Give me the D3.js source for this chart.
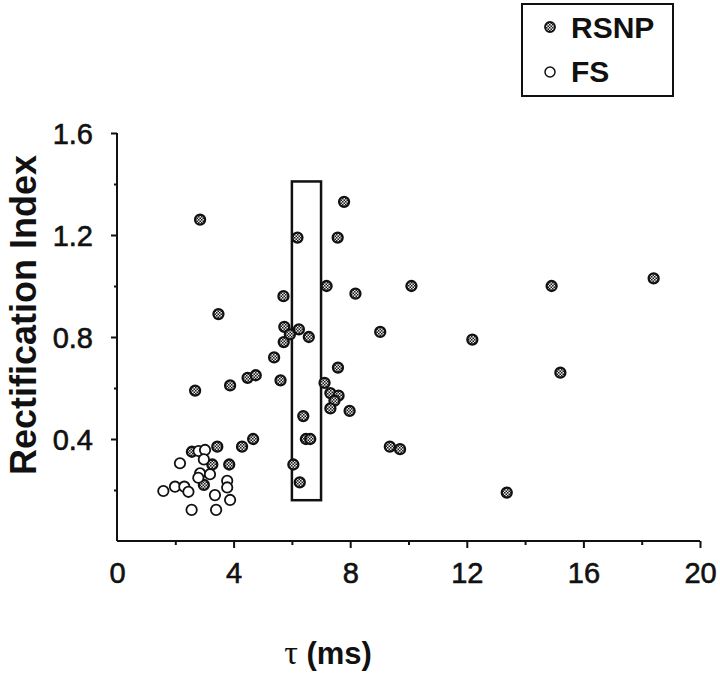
<!DOCTYPE html>
<html>
<head>
<meta charset="utf-8">
<script src="https://cdn.jsdelivr.net/npm/d3@7"></script>
<style>
  html, body { margin: 0; padding: 0; background: #fff; }
  svg { display: block; font-family: "Liberation Sans", Arial, Helvetica, sans-serif; }
</style>
</head>
<body>
<svg id="chart" width="720" height="674"></svg>
<script>
// ---- data ----
const rsnpTau = [2.85, 7.79, 6.19, 7.57, 7.19, 8.18, 10.1, 5.71, 3.48, 5.74, 6.24, 5.93, 6.58, 5.72, 9.03,
  5.39, 7.58, 4.48, 4.76, 5.61, 3.88, 2.68, 7.12, 7.32, 7.60, 7.46, 7.32, 7.98, 6.39, 4.67, 4.29, 3.44,
  6.48, 6.63, 3.27, 3.85, 6.05, 6.27, 2.98, 9.36, 9.71, 14.91, 18.41, 12.19, 15.21, 13.37, 2.57];
const rsnpRI = [1.26, 1.33, 1.19, 1.19, 1.00, 0.97, 1.00, 0.96, 0.89, 0.84, 0.83, 0.81, 0.80, 0.78, 0.82,
  0.72, 0.68, 0.64, 0.65, 0.63, 0.61, 0.59, 0.62, 0.58, 0.57, 0.55, 0.52, 0.51, 0.49, 0.40, 0.37, 0.37,
  0.40, 0.40, 0.30, 0.30, 0.30, 0.23, 0.22, 0.37, 0.36, 1.00, 1.03, 0.79, 0.66, 0.19, 0.35];
const fsTau = [2.80, 3.02, 2.98, 2.16, 2.85, 3.19, 2.79, 3.78, 3.78, 1.99, 2.31, 2.45, 1.59, 3.36, 3.88, 2.56, 3.40];
const fsRI  = [0.353, 0.357, 0.320, 0.305, 0.265, 0.262, 0.248, 0.236, 0.210, 0.213, 0.213, 0.193, 0.196, 0.180, 0.161, 0.122, 0.122];
const xTicksMajor = [0, 4, 8, 12, 16, 20];
const xTicksMinor = [2, 6, 10, 14, 18];
const yTicksMajor = [0.4, 0.8, 1.2, 1.6];
const yTicksMinor = [0.2, 0.6, 1.0, 1.4];
const boxTau = [6, 7];
const boxRI = [0.16, 1.41];
const seriesNames = ["RSNP", "FS"];
const xTitleSymbol = "\u03C4";
const xTitleUnit = " (ms)";
const yTitle = "Rectification Index";

// ---- layout ----
const svg = d3.select("#chart");
const x = d3.scaleLinear().domain([0, 20]).range([117, 700]);
const y = d3.scaleLinear().domain([0, 1.6]).range([541, 133]);

// hatch pattern for RSNP
const defs = svg.append("defs");
const pat = defs.append("pattern").attr("id", "hatch").attr("patternUnits", "userSpaceOnUse")
  .attr("width", 3).attr("height", 3);
pat.append("rect").attr("width", 3).attr("height", 3).attr("fill", "#e8e8e8");
pat.append("rect").attr("width", 1.5).attr("height", 1.5).attr("fill", "#1a1a1a");
pat.append("rect").attr("x", 1.5).attr("y", 1.5).attr("width", 1.5).attr("height", 1.5).attr("fill", "#1a1a1a");

// axes
const xAxis = d3.axisBottom(x).tickValues(xTicksMajor).tickSize(7).tickPadding(14).tickFormat(d3.format("d"));
const gx = svg.append("g").attr("transform", `translate(0,${y(0)})`).call(xAxis);
const xMinor = d3.axisBottom(x).tickValues(xTicksMinor).tickSize(4).tickFormat("");
const gxm = svg.append("g").attr("transform", `translate(0,${y(0)})`).call(xMinor);
gxm.select(".domain").remove();
gx.selectAll(".tick").filter(d => d === 0).select("line").remove();

const yAxis = d3.axisLeft(y).tickValues(yTicksMajor).tickSize(6).tickPadding(18).tickFormat(d3.format(".1f"));
const gy = svg.append("g").attr("transform", `translate(${x(0)},0)`).call(yAxis);
const yMinor = d3.axisLeft(y).tickValues(yTicksMinor).tickSize(3).tickFormat("");
const gym = svg.append("g").attr("transform", `translate(${x(0)},0)`).call(yMinor);
gym.select(".domain").remove();

[gx, gy, gxm, gym].forEach(g => {
  g.select(".domain").attr("stroke", "#111").attr("stroke-width", 2);
  g.selectAll(".tick line").attr("stroke", "#111").attr("stroke-width", 2);
  g.selectAll(".tick text").attr("fill", "#111").attr("stroke", "#111").attr("stroke-width", 0.6)
    .style("font-size", "29px");
});
gx.select(".domain").attr("d", `M${x(0)},0H${x(20)}`);
gy.select(".domain").attr("d", `M0,${y(1.6)}V${y(0)}`);
gy.selectAll(".tick text").attr("dy", "0.36em");

// titles
const xt = svg.append("text").attr("x", 328).attr("y", 664).attr("text-anchor", "middle")
  .style("font-size", "31px").attr("fill", "#111");
xt.append("tspan").style("font-family", "'Liberation Serif', 'Times New Roman', serif").style("font-size", "34px")
  .text(xTitleSymbol);
xt.append("tspan").style("font-weight", "bold").text(xTitleUnit);
svg.append("text").attr("transform", `translate(36,315) rotate(-90)`).attr("text-anchor", "middle")
  .style("font-size", "36px").style("font-weight", "bold").attr("fill", "#111").text(yTitle);

// highlight box
svg.append("rect")
  .attr("x", x(boxTau[0])).attr("y", y(boxRI[1]))
  .attr("width", x(boxTau[1]) - x(boxTau[0])).attr("height", y(boxRI[0]) - y(boxRI[1]))
  .attr("fill", "none").attr("stroke", "#111").attr("stroke-width", 2.5);

// points
const rsnp = rsnpTau.map((t, i) => ({t, r: rsnpRI[i]}));
const fs = fsTau.map((t, i) => ({t, r: fsRI[i]}));
svg.append("g").selectAll("circle").data(rsnp).join("circle")
  .attr("cx", d => x(d.t)).attr("cy", d => y(d.r)).attr("r", 5)
  .attr("fill", "url(#hatch)").attr("stroke", "#111").attr("stroke-width", 2.3);
svg.append("g").selectAll("circle").data(fs).join("circle")
  .attr("cx", d => x(d.t)).attr("cy", d => y(d.r)).attr("r", 5.2)
  .attr("fill", "#fff").attr("stroke", "#111").attr("stroke-width", 1.8);

// legend
const lg = svg.append("g");
lg.append("rect").attr("x", 522).attr("y", 4).attr("width", 151).attr("height", 92)
  .attr("fill", "#fff").attr("stroke", "#111").attr("stroke-width", 2);
lg.append("circle").attr("cx", 550).attr("cy", 27).attr("r", 5)
  .attr("fill", "url(#hatch)").attr("stroke", "#111").attr("stroke-width", 1.8);
lg.append("circle").attr("cx", 550).attr("cy", 72).attr("r", 5)
  .attr("fill", "#fff").attr("stroke", "#111").attr("stroke-width", 1.5);
lg.append("text").attr("x", 571).attr("y", 38).style("font-size", "30px").style("font-weight", "bold")
  .attr("fill", "#111").text(seriesNames[0]);
lg.append("text").attr("x", 571).attr("y", 82).style("font-size", "30px").style("font-weight", "bold")
  .attr("fill", "#111").text(seriesNames[1]);
</script>
</body>
</html>
